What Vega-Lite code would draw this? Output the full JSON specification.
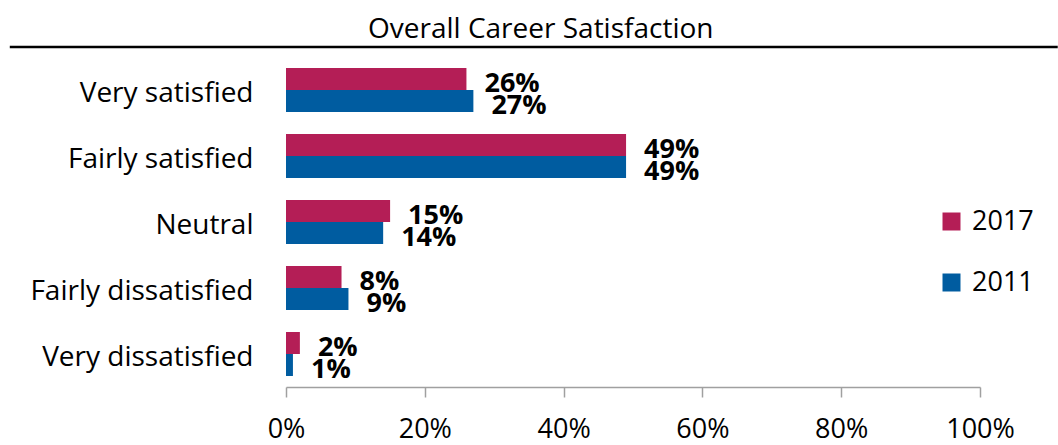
{
  "$schema": "https://vega.github.io/schema/vega-lite/v6.json",
  "width": 694,
  "height": 330,
  "autosize": {"type": "none"},
  "padding": {"left": 286, "top": 57, "right": 78, "bottom": 58},
  "background": "white",
  "config": {"view": {"stroke": null}, "font": "Open Sans"},
  "title": {
    "text": "Overall Career Satisfaction",
    "font": "Open Sans",
    "fontSize": 28,
    "fontWeight": "normal",
    "color": "black",
    "anchor": "middle",
    "frame": "bounds",
    "dx": 7,
    "offset": 2
  },
  "data": {
    "values": [
      {"category": "Very satisfied", "year": "2017", "pct": 0.26},
      {"category": "Very satisfied", "year": "2011", "pct": 0.27},
      {"category": "Fairly satisfied", "year": "2017", "pct": 0.49},
      {"category": "Fairly satisfied", "year": "2011", "pct": 0.49},
      {"category": "Neutral", "year": "2017", "pct": 0.15},
      {"category": "Neutral", "year": "2011", "pct": 0.14},
      {"category": "Fairly dissatisfied", "year": "2017", "pct": 0.08},
      {"category": "Fairly dissatisfied", "year": "2011", "pct": 0.09},
      {"category": "Very dissatisfied", "year": "2017", "pct": 0.02},
      {"category": "Very dissatisfied", "year": "2011", "pct": 0.01}
    ]
  },
  "layer": [
    {
      "mark": {"type": "bar"},
      "encoding": {
        "y": {
          "field": "category",
          "type": "nominal",
          "sort": ["Very satisfied", "Fairly satisfied", "Neutral", "Fairly dissatisfied", "Very dissatisfied"],
          "scale": {"paddingInner": 0, "paddingOuter": 0},
          "axis": {
            "title": null,
            "ticks": false,
            "domain": false,
            "labelFontSize": 28,
            "labelFont": "Open Sans",
            "labelColor": "black",
            "labelPadding": 33,
            "labelOffset": 4,
            "labelLimit": 400
          }
        },
        "yOffset": {
          "field": "year",
          "type": "nominal",
          "sort": ["2017", "2011"],
          "scale": {"paddingInner": 0, "paddingOuter": 0.5}
        },
        "x": {
          "field": "pct",
          "type": "quantitative",
          "scale": {"domain": [0, 1], "nice": false},
          "axis": {
            "title": null,
            "values": [0, 0.2, 0.4, 0.6, 0.8, 1],
            "format": ".0%",
            "grid": false,
            "domainColor": "#A0A0A0",
            "tickColor": "#A0A0A0",
            "domainWidth": 1.5,
            "tickWidth": 1.5,
            "tickSize": 10,
            "labelFontSize": 27,
            "labelFont": "Open Sans",
            "labelColor": "black",
            "labelPadding": 19,
            "labelFlush": false,
            "labelOverlap": false
          }
        },
        "color": {
          "field": "year",
          "type": "nominal",
          "sort": ["2017", "2011"],
          "scale": {"domain": ["2017", "2011"], "range": ["#B41E56", "#005CA0"]},
          "legend": {
            "orient": "none",
            "legendX": 652,
            "legendY": 151,
            "title": null,
            "symbolType": "square",
            "symbolSize": 324,
            "symbolStrokeWidth": 0,
            "labelFontSize": 27,
            "labelFont": "Open Sans",
            "labelColor": "black",
            "rowPadding": 33,
            "labelOffset": 7
          }
        }
      }
    },
    {
      "mark": {
        "type": "text",
        "align": "left",
        "baseline": "middle",
        "dx": 18,
        "dy": 5,
        "fontSize": 27,
        "fontWeight": "bold",
        "font": "Open Sans",
        "color": "black"
      },
      "encoding": {
        "y": {"field": "category", "type": "nominal", "sort": ["Very satisfied", "Fairly satisfied", "Neutral", "Fairly dissatisfied", "Very dissatisfied"]},
        "yOffset": {"field": "year", "type": "nominal", "sort": ["2017", "2011"]},
        "x": {"field": "pct", "type": "quantitative"},
        "text": {"field": "pct", "type": "quantitative", "format": ".0%"}
      }
    },
    {
      "data": {"values": [{}]},
      "mark": {"type": "rule", "color": "black", "strokeWidth": 2.5},
      "encoding": {
        "x": {"datum": -0.398},
        "x2": {"datum": 1.112},
        "y": {"datum": "Very satisfied", "bandPosition": -0.15}
      }
    }
  ]
}
